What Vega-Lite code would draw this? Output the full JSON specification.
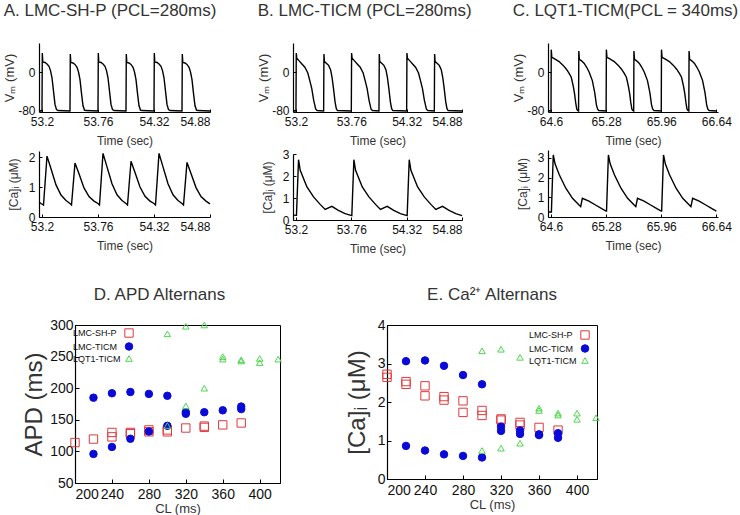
{
  "$schema": "https://vega.github.io/schema/vega-lite/v6.json",
  "padding": {"left": 3, "top": 2, "right": 0, "bottom": 0},
  "background": "white",
  "config": {
    "font": "Liberation Sans",
    "view": {"stroke": null},
    "axis": {"grid": false, "domainColor": "#000", "tickColor": "#000", "labelColor": "#111", "titleColor": "#333", "labelFont": "Liberation Sans", "titleFont": "Liberation Sans", "titleFontWeight": "normal", "labelFontSize": 12, "titleFontSize": 12, "tickSize": -3, "domainWidth": 1.2},
    "axisX": {"labelPadding": 7, "titlePadding": 8},
    "axisY": {"labelPadding": 7},
    "title": {"fontWeight": "normal", "font": "Liberation Sans", "color": "#333"},
    "line": {"color": "#000", "strokeWidth": 1.4}
  },
  "datasets": {
    "vA": [
      {"t":53.17,"v":-82},
      {"t":53.2,"v":-82},{"t":53.203,"v":40},{"t":53.208,"v":21},{"t":53.23,"v":20},{"t":53.25,"v":17},{"t":53.27,"v":12},{"t":53.285,"v":3},{"t":53.3,"v":-12},{"t":53.315,"v":-40},{"t":53.33,"v":-68},{"t":53.345,"v":-79},{"t":53.36,"v":-81},
      {"t":53.48,"v":-82},{"t":53.483,"v":38},{"t":53.488,"v":20},{"t":53.51,"v":19},{"t":53.53,"v":16},{"t":53.55,"v":10},{"t":53.565,"v":0},{"t":53.58,"v":-16},{"t":53.595,"v":-45},{"t":53.61,"v":-71},{"t":53.625,"v":-80},{"t":53.64,"v":-81},
      {"t":53.76,"v":-82},{"t":53.763,"v":40},{"t":53.768,"v":21},{"t":53.79,"v":20},{"t":53.81,"v":17},{"t":53.83,"v":12},{"t":53.845,"v":3},{"t":53.86,"v":-12},{"t":53.875,"v":-40},{"t":53.89,"v":-68},{"t":53.905,"v":-79},{"t":53.92,"v":-81},
      {"t":54.04,"v":-82},{"t":54.043,"v":38},{"t":54.048,"v":20},{"t":54.07,"v":19},{"t":54.09,"v":16},{"t":54.11,"v":10},{"t":54.125,"v":0},{"t":54.14,"v":-16},{"t":54.155,"v":-45},{"t":54.17,"v":-71},{"t":54.185,"v":-80},{"t":54.2,"v":-81},
      {"t":54.32,"v":-82},{"t":54.323,"v":40},{"t":54.328,"v":21},{"t":54.35,"v":20},{"t":54.37,"v":17},{"t":54.39,"v":12},{"t":54.405,"v":3},{"t":54.42,"v":-12},{"t":54.435,"v":-40},{"t":54.45,"v":-68},{"t":54.465,"v":-79},{"t":54.48,"v":-81},
      {"t":54.6,"v":-82},{"t":54.603,"v":38},{"t":54.608,"v":20},{"t":54.63,"v":19},{"t":54.65,"v":16},{"t":54.67,"v":10},{"t":54.685,"v":0},{"t":54.7,"v":-16},{"t":54.715,"v":-45},{"t":54.73,"v":-71},{"t":54.745,"v":-80},{"t":54.76,"v":-81},
      {"t":54.88,"v":-82}
    ],
    "cA": [
      {"t":53.17,"v":0.5},{"t":53.19,"v":0.45},{"t":53.215,"v":0.4},
      {"t":53.25,"v":2.03},{"t":53.29,"v":1.61},{"t":53.34,"v":1.07},{"t":53.39,"v":0.73},{"t":53.44,"v":0.55},{"t":53.48,"v":0.45},{"t":53.495,"v":0.4},
      {"t":53.53,"v":1.8},{"t":53.57,"v":1.44},{"t":53.62,"v":0.97},{"t":53.67,"v":0.68},{"t":53.72,"v":0.53},{"t":53.76,"v":0.45},{"t":53.775,"v":0.4},
      {"t":53.81,"v":2.12},{"t":53.85,"v":1.67},{"t":53.9,"v":1.11},{"t":53.95,"v":0.74},{"t":54.0,"v":0.55},{"t":54.04,"v":0.45},{"t":54.055,"v":0.4},
      {"t":54.09,"v":1.86},{"t":54.13,"v":1.48},{"t":54.18,"v":1.0},{"t":54.23,"v":0.69},{"t":54.28,"v":0.53},{"t":54.32,"v":0.45},{"t":54.335,"v":0.4},
      {"t":54.37,"v":2.12},{"t":54.41,"v":1.67},{"t":54.46,"v":1.11},{"t":54.51,"v":0.74},{"t":54.56,"v":0.55},{"t":54.6,"v":0.45},{"t":54.615,"v":0.4},
      {"t":54.65,"v":1.82},{"t":54.69,"v":1.45},{"t":54.74,"v":0.98},{"t":54.79,"v":0.68},{"t":54.84,"v":0.53},{"t":54.88,"v":0.44}
    ],
    "vB": [
      {"t":53.17,"v":-82},
      {"t":53.2,"v":-82},{"t":53.203,"v":40},{"t":53.208,"v":29},{"t":53.23,"v":24},{"t":53.26,"v":17},{"t":53.29,"v":10},{"t":53.32,"v":-2},{"t":53.34,"v":-18},{"t":53.36,"v":-35},{"t":53.38,"v":-60},{"t":53.4,"v":-78},{"t":53.415,"v":-81},
      {"t":53.48,"v":-82},{"t":53.483,"v":38},{"t":53.488,"v":22},{"t":53.51,"v":18},{"t":53.53,"v":14},{"t":53.55,"v":5},{"t":53.565,"v":-11},{"t":53.58,"v":-35},{"t":53.595,"v":-62},{"t":53.608,"v":-77},{"t":53.62,"v":-81},
      {"t":53.76,"v":-82},{"t":53.763,"v":40},{"t":53.768,"v":29},{"t":53.79,"v":24},{"t":53.82,"v":17},{"t":53.85,"v":10},{"t":53.88,"v":-2},{"t":53.9,"v":-18},{"t":53.92,"v":-35},{"t":53.94,"v":-60},{"t":53.96,"v":-78},{"t":53.975,"v":-81},
      {"t":54.04,"v":-82},{"t":54.043,"v":38},{"t":54.048,"v":22},{"t":54.07,"v":18},{"t":54.09,"v":14},{"t":54.11,"v":5},{"t":54.125,"v":-11},{"t":54.14,"v":-35},{"t":54.155,"v":-62},{"t":54.168,"v":-77},{"t":54.18,"v":-81},
      {"t":54.32,"v":-82},{"t":54.323,"v":40},{"t":54.328,"v":29},{"t":54.35,"v":24},{"t":54.38,"v":17},{"t":54.41,"v":10},{"t":54.44,"v":-2},{"t":54.46,"v":-18},{"t":54.48,"v":-35},{"t":54.5,"v":-60},{"t":54.52,"v":-78},{"t":54.535,"v":-81},
      {"t":54.6,"v":-82},{"t":54.603,"v":38},{"t":54.608,"v":22},{"t":54.63,"v":18},{"t":54.65,"v":14},{"t":54.67,"v":5},{"t":54.685,"v":-11},{"t":54.7,"v":-35},{"t":54.715,"v":-62},{"t":54.728,"v":-77},{"t":54.74,"v":-81},
      {"t":54.88,"v":-82}
    ],
    "cB": [
      {"t":53.17,"v":0.22},{"t":53.205,"v":0.21},
      {"t":53.226,"v":2.74},{"t":53.243,"v":2.26},{"t":53.311,"v":1.5},{"t":53.378,"v":1.05},{"t":53.445,"v":0.71},{"t":53.495,"v":0.48},{"t":53.563,"v":0.62},{"t":53.629,"v":0.44},{"t":53.697,"v":0.29},{"t":53.757,"v":0.21},{"t":53.765,"v":0.2},
      {"t":53.786,"v":2.74},{"t":53.803,"v":2.26},{"t":53.871,"v":1.5},{"t":53.938,"v":1.05},{"t":54.005,"v":0.71},{"t":54.055,"v":0.48},{"t":54.123,"v":0.62},{"t":54.189,"v":0.44},{"t":54.257,"v":0.29},{"t":54.317,"v":0.21},{"t":54.325,"v":0.2},
      {"t":54.346,"v":2.74},{"t":54.363,"v":2.26},{"t":54.431,"v":1.5},{"t":54.498,"v":1.05},{"t":54.565,"v":0.71},{"t":54.615,"v":0.48},{"t":54.683,"v":0.62},{"t":54.749,"v":0.44},{"t":54.817,"v":0.29},{"t":54.88,"v":0.2}
    ],
    "vC": [
      {"t":64.563,"v":-82},
      {"t":64.6,"v":-82},{"t":64.603,"v":47},{"t":64.61,"v":31},{"t":64.64,"v":28},{"t":64.7,"v":22},{"t":64.75,"v":14},{"t":64.79,"v":6},{"t":64.82,"v":-2},{"t":64.85,"v":-11},{"t":64.875,"v":-30},{"t":64.89,"v":-45},{"t":64.905,"v":-65},{"t":64.918,"v":-78},{"t":64.93,"v":-81},
      {"t":64.94,"v":-82},{"t":64.943,"v":44},{"t":64.95,"v":27},{"t":64.98,"v":23},{"t":65.01,"v":18},{"t":65.04,"v":10},{"t":65.07,"v":0},{"t":65.11,"v":-18},{"t":65.14,"v":-44},{"t":65.16,"v":-69},{"t":65.175,"v":-78},{"t":65.19,"v":-81},
      {"t":65.28,"v":-82},{"t":65.283,"v":47},{"t":65.29,"v":31},{"t":65.32,"v":28},{"t":65.38,"v":22},{"t":65.43,"v":14},{"t":65.47,"v":6},{"t":65.5,"v":-2},{"t":65.53,"v":-11},{"t":65.555,"v":-30},{"t":65.57,"v":-45},{"t":65.585,"v":-65},{"t":65.598,"v":-78},{"t":65.61,"v":-81},
      {"t":65.62,"v":-82},{"t":65.623,"v":44},{"t":65.63,"v":27},{"t":65.66,"v":23},{"t":65.69,"v":18},{"t":65.72,"v":10},{"t":65.75,"v":0},{"t":65.79,"v":-18},{"t":65.82,"v":-44},{"t":65.84,"v":-69},{"t":65.855,"v":-78},{"t":65.87,"v":-81},
      {"t":65.96,"v":-82},{"t":65.963,"v":47},{"t":65.97,"v":31},{"t":66.0,"v":28},{"t":66.06,"v":22},{"t":66.11,"v":14},{"t":66.15,"v":6},{"t":66.18,"v":-2},{"t":66.21,"v":-11},{"t":66.235,"v":-30},{"t":66.25,"v":-45},{"t":66.265,"v":-65},{"t":66.278,"v":-78},{"t":66.29,"v":-81},
      {"t":66.3,"v":-82},{"t":66.303,"v":44},{"t":66.31,"v":27},{"t":66.34,"v":23},{"t":66.37,"v":18},{"t":66.4,"v":10},{"t":66.43,"v":0},{"t":66.47,"v":-18},{"t":66.5,"v":-44},{"t":66.52,"v":-69},{"t":66.535,"v":-78},{"t":66.55,"v":-81},
      {"t":66.64,"v":-82}
    ],
    "cC": [
      {"t":64.563,"v":0.25},{"t":64.605,"v":0.25},
      {"t":64.628,"v":3.15},{"t":64.65,"v":2.7},{"t":64.702,"v":2.14},{"t":64.783,"v":1.46},{"t":64.865,"v":0.95},{"t":64.946,"v":0.61},{"t":64.966,"v":0.53},{"t":64.987,"v":0.95},{"t":65.068,"v":0.81},{"t":65.149,"v":0.61},{"t":65.231,"v":0.41},{"t":65.28,"v":0.3},{"t":65.285,"v":0.3},
      {"t":65.308,"v":3.15},{"t":65.33,"v":2.7},{"t":65.382,"v":2.14},{"t":65.463,"v":1.46},{"t":65.545,"v":0.95},{"t":65.626,"v":0.61},{"t":65.646,"v":0.53},{"t":65.667,"v":0.95},{"t":65.748,"v":0.81},{"t":65.829,"v":0.61},{"t":65.911,"v":0.41},{"t":65.96,"v":0.3},{"t":65.965,"v":0.3},
      {"t":65.988,"v":3.15},{"t":66.01,"v":2.7},{"t":66.062,"v":2.14},{"t":66.143,"v":1.46},{"t":66.225,"v":0.95},{"t":66.306,"v":0.61},{"t":66.326,"v":0.53},{"t":66.347,"v":0.95},{"t":66.428,"v":0.81},{"t":66.509,"v":0.61},{"t":66.591,"v":0.41},{"t":66.64,"v":0.3}
    ],
    "apd": [
      {"s":"LMC-SH-P","cl":200,"y":114},{"s":"LMC-SH-P","cl":220,"y":119.5},{"s":"LMC-SH-P","cl":240,"y":130},{"s":"LMC-SH-P","cl":240,"y":123},{"s":"LMC-SH-P","cl":260,"y":130},{"s":"LMC-SH-P","cl":260,"y":128},{"s":"LMC-SH-P","cl":280,"y":134},{"s":"LMC-SH-P","cl":280,"y":131},{"s":"LMC-SH-P","cl":300,"y":134},{"s":"LMC-SH-P","cl":300,"y":131},{"s":"LMC-SH-P","cl":320,"y":137},{"s":"LMC-SH-P","cl":340,"y":140},{"s":"LMC-SH-P","cl":340,"y":138},{"s":"LMC-SH-P","cl":360,"y":142},{"s":"LMC-SH-P","cl":380,"y":145},
      {"s":"LMC-TICM","cl":220,"y":185},{"s":"LMC-TICM","cl":220,"y":96},{"s":"LMC-TICM","cl":240,"y":192},{"s":"LMC-TICM","cl":240,"y":107},{"s":"LMC-TICM","cl":260,"y":194},{"s":"LMC-TICM","cl":260,"y":120},{"s":"LMC-TICM","cl":280,"y":191},{"s":"LMC-TICM","cl":280,"y":131.5},{"s":"LMC-TICM","cl":300,"y":188},{"s":"LMC-TICM","cl":300,"y":140.5},{"s":"LMC-TICM","cl":320,"y":162},{"s":"LMC-TICM","cl":320,"y":159.5},{"s":"LMC-TICM","cl":340,"y":162},{"s":"LMC-TICM","cl":360,"y":165},{"s":"LMC-TICM","cl":380,"y":171},{"s":"LMC-TICM","cl":380,"y":167},
      {"s":"LQT1-TICM","cl":300,"y":286},{"s":"LQT1-TICM","cl":300,"y":141},{"s":"LQT1-TICM","cl":320,"y":298},{"s":"LQT1-TICM","cl":320,"y":172},{"s":"LQT1-TICM","cl":340,"y":300},{"s":"LQT1-TICM","cl":340,"y":200},{"s":"LQT1-TICM","cl":360,"y":250},{"s":"LQT1-TICM","cl":360,"y":246},{"s":"LQT1-TICM","cl":380,"y":245},{"s":"LQT1-TICM","cl":380,"y":243},{"s":"LQT1-TICM","cl":400,"y":247},{"s":"LQT1-TICM","cl":400,"y":240.5},{"s":"LQT1-TICM","cl":420,"y":246}
    ],
    "ca": [
      {"s":"LMC-SH-P","cl":200,"y":2.72},{"s":"LMC-SH-P","cl":200,"y":2.64},{"s":"LMC-SH-P","cl":220,"y":2.53},{"s":"LMC-SH-P","cl":220,"y":2.46},{"s":"LMC-SH-P","cl":240,"y":2.42},{"s":"LMC-SH-P","cl":240,"y":2.16},{"s":"LMC-SH-P","cl":260,"y":2.14},{"s":"LMC-SH-P","cl":260,"y":2.05},{"s":"LMC-SH-P","cl":280,"y":2.03},{"s":"LMC-SH-P","cl":280,"y":1.73},{"s":"LMC-SH-P","cl":300,"y":1.78},{"s":"LMC-SH-P","cl":300,"y":1.65},{"s":"LMC-SH-P","cl":320,"y":1.56},{"s":"LMC-SH-P","cl":320,"y":1.53},{"s":"LMC-SH-P","cl":340,"y":1.47},{"s":"LMC-SH-P","cl":340,"y":1.4},{"s":"LMC-SH-P","cl":360,"y":1.34},{"s":"LMC-SH-P","cl":380,"y":1.27},
      {"s":"LMC-TICM","cl":220,"y":3.06},{"s":"LMC-TICM","cl":220,"y":0.86},{"s":"LMC-TICM","cl":240,"y":3.08},{"s":"LMC-TICM","cl":240,"y":0.74},{"s":"LMC-TICM","cl":260,"y":2.94},{"s":"LMC-TICM","cl":260,"y":0.64},{"s":"LMC-TICM","cl":280,"y":2.7},{"s":"LMC-TICM","cl":280,"y":0.6},{"s":"LMC-TICM","cl":300,"y":2.46},{"s":"LMC-TICM","cl":300,"y":0.56},{"s":"LMC-TICM","cl":320,"y":1.36},{"s":"LMC-TICM","cl":320,"y":1.25},{"s":"LMC-TICM","cl":340,"y":1.26},{"s":"LMC-TICM","cl":340,"y":1.17},{"s":"LMC-TICM","cl":360,"y":1.16},{"s":"LMC-TICM","cl":360,"y":1.14},{"s":"LMC-TICM","cl":380,"y":1.19},{"s":"LMC-TICM","cl":380,"y":1.07},
      {"s":"LQT1-TICM","cl":300,"y":3.33},{"s":"LQT1-TICM","cl":300,"y":0.74},{"s":"LQT1-TICM","cl":320,"y":3.37},{"s":"LQT1-TICM","cl":320,"y":0.8},{"s":"LQT1-TICM","cl":340,"y":3.16},{"s":"LQT1-TICM","cl":340,"y":0.93},{"s":"LQT1-TICM","cl":360,"y":1.84},{"s":"LQT1-TICM","cl":360,"y":1.78},{"s":"LQT1-TICM","cl":380,"y":1.71},{"s":"LQT1-TICM","cl":380,"y":1.66},{"s":"LQT1-TICM","cl":400,"y":1.71},{"s":"LQT1-TICM","cl":400,"y":1.55},{"s":"LQT1-TICM","cl":420,"y":1.59}
    ],
    "none": []
  },
  "spacing": 31,
  "vconcat": [
    {
      "spacing": 40,
      "hconcat": [
        {
          "spacing": 4,
          "vconcat": [
            {
              "title": {"text": "A. LMC-SH-P (PCL=280ms)", "anchor": "start", "frame": "bounds", "fontSize": 17, "offset": 23},
              "width": 171, "height": 69,
              "data": {"name": "vA"},
              "mark": {"type": "line"},
              "encoding": {
                "x": {"field": "t", "type": "quantitative", "scale": {"domain": [53.17, 54.88], "nice": false, "zero": false}, "axis": {"values": [53.2, 53.76, 54.32, 54.88], "format": ".4~r", "title": "Time (sec)"}},
                "y": {"field": "v", "type": "quantitative", "scale": {"domain": [-84, 61], "nice": false, "zero": false}, "axis": {"values": [-80, 0], "labelExpr": "datum.value == 0 ? '0' : '-80'", "title": "Vₘ (mV)", "titleFontSize": 13, "titlePadding": 1}}
              }
            },
            {
              "width": 171, "height": 66,
              "data": {"name": "cA"},
              "mark": {"type": "line"},
              "encoding": {
                "x": {"field": "t", "type": "quantitative", "scale": {"domain": [53.17, 54.88], "nice": false, "zero": false}, "axis": {"values": [53.2, 53.76, 54.32, 54.88], "format": ".4~r", "title": "Time (sec)"}},
                "y": {"field": "v", "type": "quantitative", "scale": {"domain": [0, 2.2], "nice": false}, "axis": {"values": [0, 1, 2], "title": "[Ca]ᵢ (μM)", "titlePadding": 8}}
              }
            }
          ]
        },
        {
          "spacing": 2,
          "vconcat": [
            {
              "title": {"text": "B. LMC-TICM (PCL=280ms)", "anchor": "start", "frame": "bounds", "fontSize": 17, "offset": 23},
              "width": 169, "height": 69,
              "data": {"name": "vB"},
              "mark": {"type": "line"},
              "encoding": {
                "x": {"field": "t", "type": "quantitative", "scale": {"domain": [53.17, 54.88], "nice": false, "zero": false}, "axis": {"values": [53.2, 53.76, 54.32, 54.88], "format": ".4~r", "title": "Time (sec)"}},
                "y": {"field": "v", "type": "quantitative", "scale": {"domain": [-84, 61], "nice": false, "zero": false}, "axis": {"values": [-80, 0], "labelExpr": "datum.value == 0 ? '0' : '-80'", "title": "Vₘ (mV)", "titleFontSize": 13, "titlePadding": 1}}
              }
            },
            {
              "width": 169, "height": 66,
              "data": {"name": "cB"},
              "mark": {"type": "line"},
              "encoding": {
                "x": {"field": "t", "type": "quantitative", "scale": {"domain": [53.17, 54.88], "nice": false, "zero": false}, "axis": {"values": [53.2, 53.76, 54.32, 54.88], "format": ".4~r", "title": "Time (sec)"}},
                "y": {"field": "v", "type": "quantitative", "scale": {"domain": [0, 3], "nice": false}, "axis": {"values": [0, 1, 2, 3], "title": "[Ca]ᵢ (μM)", "titlePadding": 8}}
              }
            }
          ]
        },
        {
          "spacing": 4,
          "vconcat": [
            {
              "title": {"text": "C. LQT1-TICM(PCL = 340ms)", "anchor": "start", "frame": "bounds", "fontSize": 17, "offset": 23},
              "width": 170, "height": 69,
              "data": {"name": "vC"},
              "mark": {"type": "line"},
              "encoding": {
                "x": {"field": "t", "type": "quantitative", "scale": {"domain": [64.563, 66.66], "nice": false, "zero": false}, "axis": {"values": [64.6, 65.28, 65.96, 66.64], "format": ".4~r", "title": "Time (sec)"}},
                "y": {"field": "v", "type": "quantitative", "scale": {"domain": [-84, 61], "nice": false, "zero": false}, "axis": {"values": [-80, 0], "labelExpr": "datum.value == 0 ? '0' : '-80'", "title": "Vₘ (mV)", "titleFontSize": 13, "titlePadding": 1}}
              }
            },
            {
              "width": 170, "height": 67,
              "data": {"name": "cC"},
              "mark": {"type": "line"},
              "encoding": {
                "x": {"field": "t", "type": "quantitative", "scale": {"domain": [64.563, 66.66], "nice": false, "zero": false}, "axis": {"values": [64.6, 65.28, 65.96, 66.64], "format": ".4~r", "title": "Time (sec)"}},
                "y": {"field": "v", "type": "quantitative", "scale": {"domain": [0, 3.4], "nice": false}, "axis": {"values": [0, 1, 2, 3], "title": "[Ca]ᵢ (μM)", "titlePadding": 8}}
              }
            }
          ]
        }
      ]
    },
    {
      "spacing": -18,
      "hconcat": [
        {
          "width": 1, "height": 1,
          "data": {"name": "none"},
          "mark": {"type": "point", "opacity": 0},
          "encoding": {}
        },
        {
          "spacing": 60,
          "hconcat": [
            {
              "title": {"text": "D. APD Alternans", "frame": "group", "fontSize": 17, "offset": 14, "dx": -18},
              "width": 205, "height": 158,
              "view": {"stroke": "#000", "strokeWidth": 1},
              "data": {"name": "apd"},
              "mark": {"type": "point", "strokeWidth": 1, "opacity": 1},
              "encoding": {
                "x": {"field": "cl", "type": "quantitative", "scale": {"domain": [200, 422], "nice": false, "zero": false}, "axis": {"values": [200, 240, 280, 320, 360, 400], "title": "CL (ms)", "labelFontSize": 14, "titleFontSize": 13, "labelPadding": 8, "titlePadding": 1, "tickSize": -4}},
                "y": {"field": "y", "type": "quantitative", "scale": {"domain": [50, 300], "nice": false, "zero": false}, "axis": {"values": [50, 100, 150, 200, 250, 300], "title": "APD (ms)", "labelFontSize": 14, "titleFontSize": 24, "labelPadding": 6, "titlePadding": 3, "tickSize": -4}},
                "shape": {"field": "s", "type": "nominal", "scale": {"domain": ["LMC-SH-P", "LMC-TICM", "LQT1-TICM"], "range": ["square", "circle", "triangle-up"]}, "legend": {"title": null, "orient": "top-left", "offset": 3, "padding": 0, "rowPadding": 0, "labelFontSize": 9, "labelOffset": -61, "symbolOffset": 46, "labelColor": "#111", "symbolStrokeWidth": 1}},
                "stroke": {"field": "s", "type": "nominal", "scale": {"domain": ["LMC-SH-P", "LMC-TICM", "LQT1-TICM"], "range": ["#e0383c", "#0a0ad8", "#4fd64f"]}, "legend": {"title": null, "orient": "top-left", "offset": 3, "padding": 0, "rowPadding": 0, "labelFontSize": 9, "labelOffset": -61, "symbolOffset": 46, "labelColor": "#111", "symbolStrokeWidth": 1}},
                "fill": {"field": "s", "type": "nominal", "scale": {"domain": ["LMC-SH-P", "LMC-TICM", "LQT1-TICM"], "range": ["transparent", "#0a0ad8", "transparent"]}, "legend": {"title": null, "orient": "top-left", "offset": 3, "padding": 0, "rowPadding": 0, "labelFontSize": 9, "labelOffset": -61, "symbolOffset": 46, "labelColor": "#111", "symbolStrokeWidth": 1}},
                "size": {"field": "s", "type": "nominal", "scale": {"domain": ["LMC-SH-P", "LMC-TICM", "LQT1-TICM"], "range": [70, 42, 65]}, "legend": {"title": null, "orient": "top-left", "offset": 3, "padding": 0, "rowPadding": 0, "labelFontSize": 9, "labelOffset": -61, "symbolOffset": 46, "labelColor": "#111", "symbolStrokeWidth": 1}}
              }
            },
            {
              "title": {"text": "E. Ca²⁺ Alternans", "frame": "group", "fontSize": 17, "offset": 14},
              "width": 210, "height": 154,
              "view": {"stroke": "#000", "strokeWidth": 1},
              "data": {"name": "ca"},
              "mark": {"type": "point", "strokeWidth": 1, "opacity": 1},
              "encoding": {
                "x": {"field": "cl", "type": "quantitative", "scale": {"domain": [200, 421], "nice": false, "zero": false}, "axis": {"values": [200, 240, 280, 320, 360, 400], "title": "CL (ms)", "labelFontSize": 14, "titleFontSize": 13, "labelPadding": 8, "titlePadding": 1, "tickSize": -4}},
                "y": {"field": "y", "type": "quantitative", "scale": {"domain": [0, 4], "nice": false}, "axis": {"values": [0, 1, 2, 3, 4], "title": "[Ca]ᵢ (μM)", "labelFontSize": 14, "titleFontSize": 24, "labelPadding": 6, "titlePadding": 8, "tickSize": -4}},
                "shape": {"field": "s", "type": "nominal", "scale": {"domain": ["LMC-SH-P", "LMC-TICM", "LQT1-TICM"], "range": ["square", "circle", "triangle-up"]}, "legend": {"title": null, "orient": "top-right", "offset": 5, "padding": 0, "rowPadding": 0, "labelFontSize": 9, "labelOffset": -61, "symbolOffset": 46, "labelColor": "#111", "symbolStrokeWidth": 1}},
                "stroke": {"field": "s", "type": "nominal", "scale": {"domain": ["LMC-SH-P", "LMC-TICM", "LQT1-TICM"], "range": ["#e0383c", "#0a0ad8", "#4fd64f"]}, "legend": {"title": null, "orient": "top-right", "offset": 5, "padding": 0, "rowPadding": 0, "labelFontSize": 9, "labelOffset": -61, "symbolOffset": 46, "labelColor": "#111", "symbolStrokeWidth": 1}},
                "fill": {"field": "s", "type": "nominal", "scale": {"domain": ["LMC-SH-P", "LMC-TICM", "LQT1-TICM"], "range": ["transparent", "#0a0ad8", "transparent"]}, "legend": {"title": null, "orient": "top-right", "offset": 5, "padding": 0, "rowPadding": 0, "labelFontSize": 9, "labelOffset": -61, "symbolOffset": 46, "labelColor": "#111", "symbolStrokeWidth": 1}},
                "size": {"field": "s", "type": "nominal", "scale": {"domain": ["LMC-SH-P", "LMC-TICM", "LQT1-TICM"], "range": [70, 42, 65]}, "legend": {"title": null, "orient": "top-right", "offset": 5, "padding": 0, "rowPadding": 0, "labelFontSize": 9, "labelOffset": -61, "symbolOffset": 46, "labelColor": "#111", "symbolStrokeWidth": 1}}
              }
            }
          ]
        }
      ]
    }
  ]
}
